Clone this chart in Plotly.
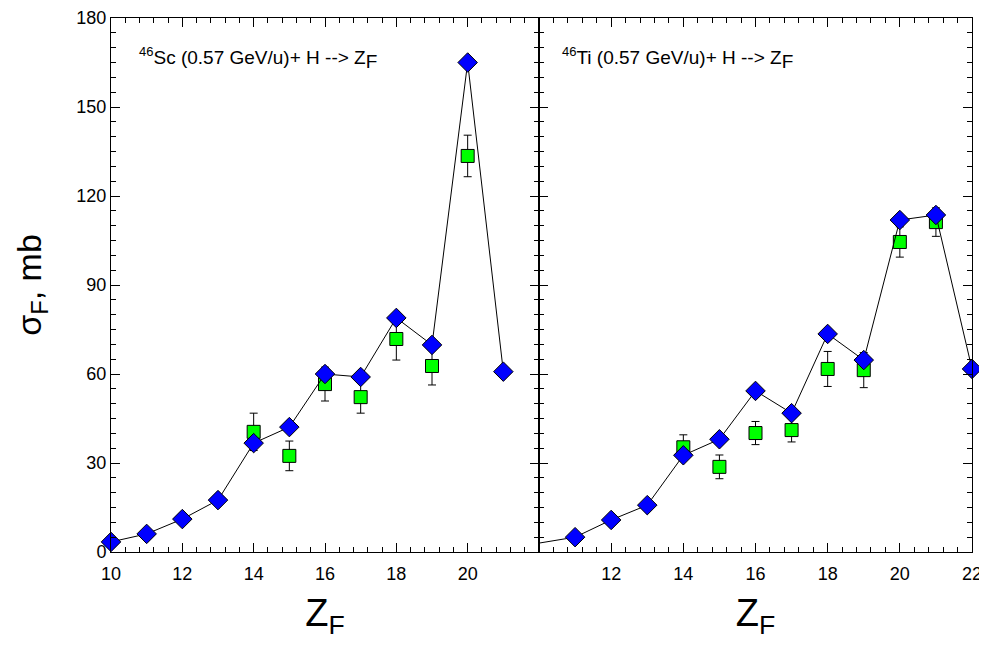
import plotly.graph_objects as go

# ---- data ----
z_sc_calc = [10, 11, 12, 13, 14, 15, 16, 17, 18, 19, 20, 21]
sig_sc_calc = [3.4, 6.1, 11.1, 17.5, 36.7, 42.1, 60.0, 59.0, 78.9, 69.8, 165.0, 60.8]
z_sc_exp = [14, 15, 16, 17, 18, 19, 20]
sig_sc_exp = [40.5, 32.4, 56.6, 52.2, 71.8, 62.7, 133.5]
err_sc_exp = [6.3, 5.0, 5.7, 5.4, 7.1, 6.4, 7.0]

z_ti_calc = [10, 11, 12, 13, 14, 15, 16, 17, 18, 19, 20, 21, 22]
sig_ti_calc = [3.0, 5.0, 10.8, 15.8, 32.6, 38.0, 54.3, 46.8, 73.5, 64.7, 111.9, 113.6, 61.7]
z_ti_exp = [14, 15, 16, 17, 18, 19, 20, 21]
sig_ti_exp = [35.3, 28.7, 40.1, 41.1, 61.7, 61.3, 104.5, 111.2]
err_ti_exp = [4.2, 4.0, 3.9, 4.0, 5.9, 5.9, 5.1, 4.8]

left_ticks = [10, 12, 14, 16, 18, 20]
right_ticks = [12, 14, 16, 18, 20, 22]
y_ticks = [0, 30, 60, 90, 120, 150, 180]

FONT = "Arial, Liberation Sans, sans-serif"

W, H = 979, 638   # page has an 8px body margin
OFF = 8

fig = go.Figure()


def add_panel(z_calc, s_calc, z_exp, s_exp, e_exp, xa, ya, marker_start):
    fig.add_trace(go.Scatter(
        x=z_exp, y=s_exp, xaxis=xa, yaxis=ya, mode="markers",
        marker=dict(symbol="square", size=13, color="#00FF00",
                    line=dict(color="black", width=1)),
        error_y=dict(type="data", array=e_exp, visible=True,
                     color="black", thickness=1, width=4),
        cliponaxis=False, showlegend=False))
    fig.add_trace(go.Scatter(
        x=z_calc, y=s_calc, xaxis=xa, yaxis=ya, mode="lines",
        line=dict(color="black", width=1), showlegend=False))
    fig.add_trace(go.Scatter(
        x=z_calc[marker_start:], y=s_calc[marker_start:], xaxis=xa, yaxis=ya,
        mode="markers",
        marker=dict(symbol="diamond", size=15, color="#0000FF",
                    line=dict(color="black", width=1)),
        cliponaxis=False, showlegend=False))


add_panel(z_sc_calc, sig_sc_calc, z_sc_exp, sig_sc_exp, err_sc_exp, "x", "y", 0)
add_panel(z_ti_calc, sig_ti_calc, z_ti_exp, sig_ti_exp, err_ti_exp, "x2", "y2", 1)

xL0, xM, xR1 = (111 - OFF) / W, (539 - OFF) / W, (972 - OFF) / W
yB, yT = (H - (552 - OFF)) / H, (H - (18 - OFF)) / H

common_x = dict(range=[10, 22], ticks="inside", ticklen=9, tickwidth=1,
                tickcolor="black", showline=True, linecolor="black",
                linewidth=1, mirror="ticks", showgrid=False, zeroline=False,
                automargin=False, ticklabelstandoff=5,
                minor=dict(dtick=0.4, tick0=10, ticks="inside", ticklen=5,
                           tickcolor="black", showgrid=False),
                tickfont=dict(family=FONT, size=18, color="black"),
                title=dict(text="Z<sub>F</sub>",
                           font=dict(family=FONT, size=38, color="black"),
                           standoff=16))
common_y = dict(range=[0, 180], ticks="inside", ticklen=9, tickwidth=1,
                tickcolor="black", showline=True, linecolor="black",
                linewidth=1, mirror="ticks", showgrid=False, zeroline=False,
                automargin=False, tickvals=y_ticks,
                minor=dict(dtick=5, ticks="inside", ticklen=5,
                           tickcolor="black", showgrid=False),
                tickfont=dict(family=FONT, size=18, color="black"))

SUP = "<sup><span style='font-size:13px'>46</span></sup>"
SUB = "<sub><span style='font-size:19px'>F</span></sub>"

fig.update_layout(
    width=W, height=H,
    margin=dict(l=0, r=0, t=0, b=0),
    paper_bgcolor="white", plot_bgcolor="white",
    xaxis=dict(common_x, domain=[xL0, xM], anchor="y", tickvals=left_ticks),
    xaxis2=dict(common_x, domain=[xM, xR1], anchor="y2", tickvals=right_ticks),
    yaxis=dict(common_y, domain=[yB, yT], anchor="x",
               title=dict(text="σ<sub>F</sub>, mb",
                          font=dict(family=FONT, size=34, color="black"),
                          standoff=24)),
    yaxis2=dict(common_y, domain=[yB, yT], anchor="x2", showticklabels=False),
    annotations=[
        dict(x=(137 - OFF) / W, y=(H - (42 - OFF)) / H, xref="paper", yref="paper",
             xanchor="left", yanchor="top", showarrow=False,
             text=SUP + "Sc (0.57 GeV/u)+ H --&gt; Z" + SUB,
             font=dict(family=FONT, size=19, color="black")),
        dict(x=(560 - OFF) / W, y=(H - (42 - OFF)) / H, xref="paper", yref="paper",
             xanchor="left", yanchor="top", showarrow=False,
             text=SUP + "Ti (0.57 GeV/u)+ H --&gt; Z" + SUB,
             font=dict(family=FONT, size=19, color="black")),
    ],
)

fig.write_html("out.html")
